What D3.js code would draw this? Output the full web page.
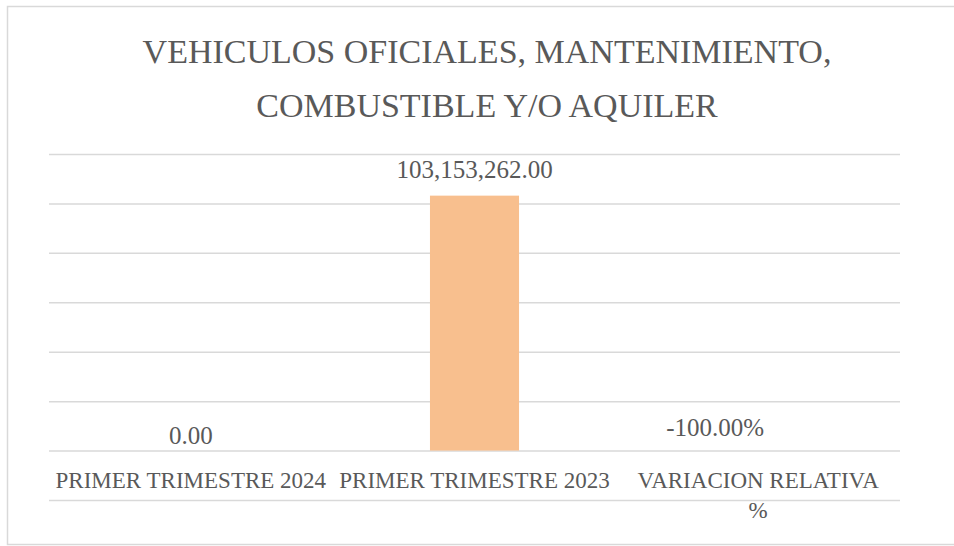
<!DOCTYPE html>
<html>
<head>
<meta charset="utf-8">
<script src="https://cdn.jsdelivr.net/npm/d3@7"></script>
<style>
  html, body { margin: 0; padding: 0; background: #fff; }
  svg { display: block; }
</style>
</head>
<body>
<div id="chart"></div>
<script>
const chartWidth = 954;
const chartHeight = 546;
const chartMargin = { top: 154, right: 54, bottom: 96, left: 49 };

const titleLines = ["VEHICULOS OFICIALES, MANTENIMIENTO,", "COMBUSTIBLE Y/O AQUILER"];
const categories = ["PRIMER TRIMESTRE 2024", "PRIMER TRIMESTRE 2023", "VARIACION RELATIVA %"];
const categoryLines = [["PRIMER TRIMESTRE 2024"], ["PRIMER TRIMESTRE 2023"], ["VARIACION RELATIVA", "%"]];
const values = [0, 103153262, -1];
const valueLabels = ["0.00", "103,153,262.00", "-100.00%"];
const yTicks = [-20000000, 0, 20000000, 40000000, 60000000, 80000000, 100000000, 120000000];

const textColor = "#595959";
const gridColor = "#d9d9d9";
const barColor = "#f8bf8e";
const fontFamily = "'Liberation Serif', 'Times New Roman', serif";

const svg = d3.select("#chart")
  .append("svg")
  .attr("width", chartWidth)
  .attr("height", chartHeight)
  .style("font-family", fontFamily);

// chart area border
svg.append("rect")
  .attr("x", 7.5)
  .attr("y", 6.5)
  .attr("width", chartWidth)
  .attr("height", chartHeight - 8)
  .attr("fill", "#fff")
  .attr("stroke", gridColor)
  .attr("stroke-width", 1.5);

const x = d3.scaleBand()
  .domain(categories)
  .range([chartMargin.left, chartWidth - chartMargin.right])
  .paddingInner(0.686)
  .paddingOuter(0.343);

const y = d3.scaleLinear()
  .domain([d3.min(yTicks), d3.max(yTicks)])
  .range([chartHeight - chartMargin.bottom + 50, chartMargin.top]);

// gridlines
svg.append("g")
  .attr("transform", `translate(${chartMargin.left},0)`)
  .call(
    d3.axisLeft(y)
      .tickValues(yTicks)
      .tickSize(-(chartWidth - chartMargin.left - chartMargin.right))
      .tickFormat(""),
  )
  .call((g) => g.select(".domain").remove())
  .call((g) => g.selectAll(".tick line")
    .attr("stroke", gridColor)
    .attr("stroke-width", 1.5));

// title
svg.append("text")
  .attr("text-anchor", "middle")
  .attr("font-size", 34)
  .attr("fill", textColor)
  .selectAll("tspan")
  .data(titleLines)
  .join("tspan")
  .attr("x", chartWidth / 2 + 10)
  .attr("y", (d, i) => 63 + i * 54)
  .text((d) => d);

// bars
svg.append("g")
  .selectAll("rect")
  .data(values)
  .join("rect")
  .attr("x", (d, i) => x(categories[i]))
  .attr("width", x.bandwidth())
  .attr("y", (d) => y(Math.max(0, d)))
  .attr("height", (d) => Math.abs(y(d) - y(0)))
  .attr("fill", barColor);

// value labels
svg.append("g")
  .selectAll("text")
  .data(values)
  .join("text")
  .attr("x", (d, i) => x(categories[i]) + x.bandwidth() / 2 + (d < 0 ? -43 : 0))
  .attr("y", (d) => y(Math.max(0, d)) - (d > 0 ? 18 : d === 0 ? 7 : 15))
  .attr("text-anchor", "middle")
  .attr("font-size", 25)
  .attr("fill", textColor)
  .text((d, i) => valueLabels[i]);

// category labels
const xAxis = svg.append("g")
  .attr("transform", `translate(0,${y(0)})`)
  .call(d3.axisBottom(x).tickSize(0).tickPadding(0))
  .call((g) => g.select(".domain").remove());

xAxis.selectAll(".tick text")
  .attr("font-family", fontFamily)
  .attr("font-size", 23)
  .attr("fill", textColor)
  .attr("y", 0)
  .attr("dy", 0)
  .text(null)
  .each(function (d) {
    const lines = categoryLines[categories.indexOf(d)];
    d3.select(this)
      .selectAll("tspan")
      .data(lines)
      .join("tspan")
      .attr("x", 0)
      .attr("y", (l, i) => 37 + i * 30)
      .text((l) => l);
  });
</script>
</body>
</html>
